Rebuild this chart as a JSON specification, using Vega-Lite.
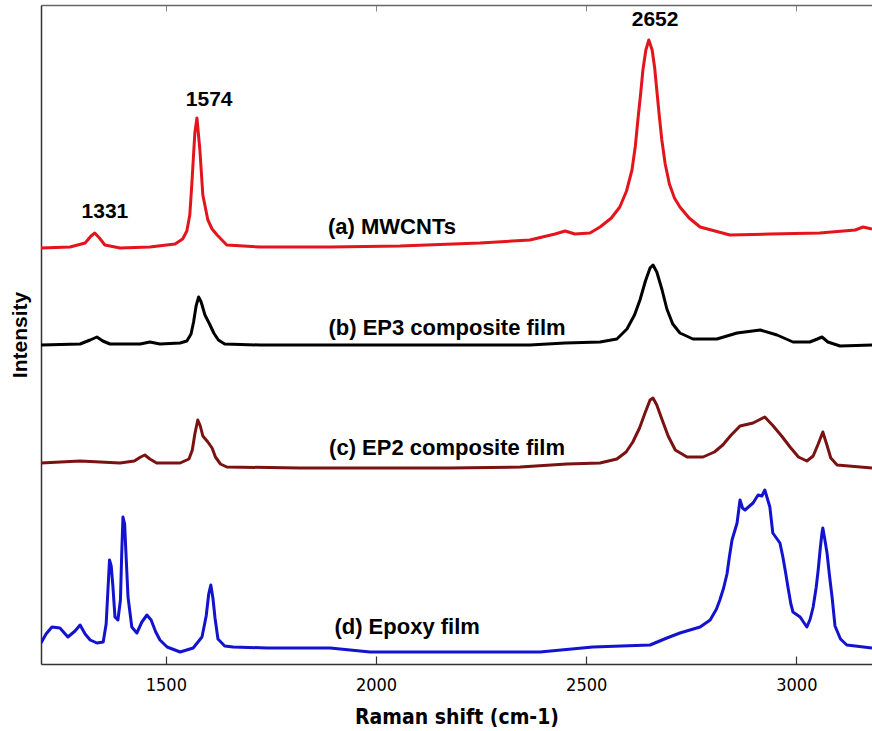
{
  "$schema": "https://vega.github.io/schema/vega-lite/v6.json",
  "autosize": {"type": "none"},
  "width": 831,
  "height": 659,
  "padding": {"left": 41, "top": 5, "right": 0, "bottom": 67},
  "background": "white",
  "config": {"view": {"stroke": null}},
  "datasets": {
    "spectra": [
      {"s": "a", "w": 1203, "v": 416}, {"s": "a", "w": 1272, "v": 417}, {"s": "a", "w": 1308, "v": 421}, {"s": "a", "w": 1322, "v": 428}, {"s": "a", "w": 1331, "v": 431}, {"s": "a", "w": 1342, "v": 426}, {"s": "a", "w": 1355, "v": 419}, {"s": "a", "w": 1391, "v": 416}, {"s": "a", "w": 1462, "v": 417}, {"s": "a", "w": 1522, "v": 420}, {"s": "a", "w": 1540, "v": 425}, {"s": "a", "w": 1550, "v": 433}, {"s": "a", "w": 1557, "v": 449}, {"s": "a", "w": 1562, "v": 481}, {"s": "a", "w": 1569, "v": 531}, {"s": "a", "w": 1574, "v": 546}, {"s": "a", "w": 1581, "v": 514}, {"s": "a", "w": 1588, "v": 469}, {"s": "a", "w": 1600, "v": 444}, {"s": "a", "w": 1610, "v": 435}, {"s": "a", "w": 1622, "v": 429}, {"s": "a", "w": 1645, "v": 419}, {"s": "a", "w": 1724, "v": 417}, {"s": "a", "w": 1891, "v": 417}, {"s": "a", "w": 2057, "v": 418}, {"s": "a", "w": 2247, "v": 421}, {"s": "a", "w": 2366, "v": 424}, {"s": "a", "w": 2426, "v": 430}, {"s": "a", "w": 2450, "v": 433}, {"s": "a", "w": 2473, "v": 430}, {"s": "a", "w": 2509, "v": 431}, {"s": "a", "w": 2533, "v": 437}, {"s": "a", "w": 2560, "v": 446}, {"s": "a", "w": 2580, "v": 457}, {"s": "a", "w": 2596, "v": 473}, {"s": "a", "w": 2609, "v": 494}, {"s": "a", "w": 2617, "v": 518}, {"s": "a", "w": 2623, "v": 544}, {"s": "a", "w": 2630, "v": 572}, {"s": "a", "w": 2635, "v": 594}, {"s": "a", "w": 2642, "v": 614}, {"s": "a", "w": 2649, "v": 624}, {"s": "a", "w": 2657, "v": 614}, {"s": "a", "w": 2663, "v": 596}, {"s": "a", "w": 2668, "v": 574}, {"s": "a", "w": 2674, "v": 548}, {"s": "a", "w": 2680, "v": 524}, {"s": "a", "w": 2688, "v": 500}, {"s": "a", "w": 2698, "v": 480}, {"s": "a", "w": 2710, "v": 466}, {"s": "a", "w": 2723, "v": 457}, {"s": "a", "w": 2745, "v": 446}, {"s": "a", "w": 2771, "v": 437}, {"s": "a", "w": 2842, "v": 429}, {"s": "a", "w": 2937, "v": 430}, {"s": "a", "w": 3056, "v": 431}, {"s": "a", "w": 3140, "v": 434}, {"s": "a", "w": 3159, "v": 437}, {"s": "a", "w": 3180, "v": 435},
      {"s": "b", "w": 1203, "v": 319}, {"s": "b", "w": 1296, "v": 320}, {"s": "b", "w": 1320, "v": 324}, {"s": "b", "w": 1336, "v": 327}, {"s": "b", "w": 1350, "v": 323}, {"s": "b", "w": 1367, "v": 320}, {"s": "b", "w": 1439, "v": 320}, {"s": "b", "w": 1462, "v": 322}, {"s": "b", "w": 1486, "v": 320}, {"s": "b", "w": 1534, "v": 321}, {"s": "b", "w": 1550, "v": 323}, {"s": "b", "w": 1560, "v": 330}, {"s": "b", "w": 1566, "v": 342}, {"s": "b", "w": 1572, "v": 358}, {"s": "b", "w": 1578, "v": 367}, {"s": "b", "w": 1584, "v": 362}, {"s": "b", "w": 1593, "v": 349}, {"s": "b", "w": 1604, "v": 340}, {"s": "b", "w": 1614, "v": 331}, {"s": "b", "w": 1625, "v": 324}, {"s": "b", "w": 1640, "v": 320}, {"s": "b", "w": 1724, "v": 319}, {"s": "b", "w": 2057, "v": 319}, {"s": "b", "w": 2366, "v": 319}, {"s": "b", "w": 2450, "v": 321}, {"s": "b", "w": 2533, "v": 322}, {"s": "b", "w": 2573, "v": 325}, {"s": "b", "w": 2597, "v": 335}, {"s": "b", "w": 2615, "v": 349}, {"s": "b", "w": 2628, "v": 364}, {"s": "b", "w": 2641, "v": 383}, {"s": "b", "w": 2652, "v": 396}, {"s": "b", "w": 2659, "v": 399}, {"s": "b", "w": 2668, "v": 392}, {"s": "b", "w": 2680, "v": 375}, {"s": "b", "w": 2692, "v": 355}, {"s": "b", "w": 2706, "v": 340}, {"s": "b", "w": 2723, "v": 331}, {"s": "b", "w": 2754, "v": 325}, {"s": "b", "w": 2811, "v": 325}, {"s": "b", "w": 2859, "v": 331}, {"s": "b", "w": 2914, "v": 334}, {"s": "b", "w": 2954, "v": 329}, {"s": "b", "w": 2992, "v": 322}, {"s": "b", "w": 3032, "v": 322}, {"s": "b", "w": 3050, "v": 325}, {"s": "b", "w": 3061, "v": 327}, {"s": "b", "w": 3075, "v": 322}, {"s": "b", "w": 3104, "v": 318}, {"s": "b", "w": 3180, "v": 319},
      {"s": "c", "w": 1203, "v": 201}, {"s": "c", "w": 1296, "v": 203}, {"s": "c", "w": 1391, "v": 201}, {"s": "c", "w": 1425, "v": 203}, {"s": "c", "w": 1440, "v": 207}, {"s": "c", "w": 1450, "v": 209}, {"s": "c", "w": 1462, "v": 205}, {"s": "c", "w": 1478, "v": 201}, {"s": "c", "w": 1534, "v": 201}, {"s": "c", "w": 1555, "v": 205}, {"s": "c", "w": 1563, "v": 214}, {"s": "c", "w": 1569, "v": 230}, {"s": "c", "w": 1576, "v": 244}, {"s": "c", "w": 1582, "v": 238}, {"s": "c", "w": 1588, "v": 228}, {"s": "c", "w": 1600, "v": 222}, {"s": "c", "w": 1610, "v": 216}, {"s": "c", "w": 1618, "v": 207}, {"s": "c", "w": 1630, "v": 200}, {"s": "c", "w": 1645, "v": 197}, {"s": "c", "w": 1819, "v": 196}, {"s": "c", "w": 2176, "v": 196}, {"s": "c", "w": 2343, "v": 197}, {"s": "c", "w": 2454, "v": 200}, {"s": "c", "w": 2533, "v": 201}, {"s": "c", "w": 2573, "v": 205}, {"s": "c", "w": 2595, "v": 212}, {"s": "c", "w": 2611, "v": 222}, {"s": "c", "w": 2627, "v": 236}, {"s": "c", "w": 2640, "v": 251}, {"s": "c", "w": 2652, "v": 264}, {"s": "c", "w": 2659, "v": 266}, {"s": "c", "w": 2668, "v": 259}, {"s": "c", "w": 2680, "v": 245}, {"s": "c", "w": 2695, "v": 228}, {"s": "c", "w": 2712, "v": 214}, {"s": "c", "w": 2740, "v": 207}, {"s": "c", "w": 2778, "v": 207}, {"s": "c", "w": 2805, "v": 212}, {"s": "c", "w": 2825, "v": 219}, {"s": "c", "w": 2845, "v": 229}, {"s": "c", "w": 2866, "v": 238}, {"s": "c", "w": 2897, "v": 241}, {"s": "c", "w": 2925, "v": 247}, {"s": "c", "w": 2945, "v": 238}, {"s": "c", "w": 2965, "v": 228}, {"s": "c", "w": 2985, "v": 217}, {"s": "c", "w": 3005, "v": 207}, {"s": "c", "w": 3025, "v": 203}, {"s": "c", "w": 3040, "v": 208}, {"s": "c", "w": 3052, "v": 220}, {"s": "c", "w": 3063, "v": 232}, {"s": "c", "w": 3072, "v": 220}, {"s": "c", "w": 3082, "v": 206}, {"s": "c", "w": 3097, "v": 199}, {"s": "c", "w": 3180, "v": 196},
      {"s": "d", "w": 1203, "v": 21}, {"s": "d", "w": 1215, "v": 30}, {"s": "d", "w": 1229, "v": 37}, {"s": "d", "w": 1248, "v": 36}, {"s": "d", "w": 1267, "v": 27}, {"s": "d", "w": 1284, "v": 33}, {"s": "d", "w": 1296, "v": 39}, {"s": "d", "w": 1308, "v": 30}, {"s": "d", "w": 1320, "v": 24}, {"s": "d", "w": 1336, "v": 21}, {"s": "d", "w": 1351, "v": 22}, {"s": "d", "w": 1358, "v": 40}, {"s": "d", "w": 1362, "v": 72}, {"s": "d", "w": 1366, "v": 104}, {"s": "d", "w": 1370, "v": 98}, {"s": "d", "w": 1374, "v": 78}, {"s": "d", "w": 1379, "v": 47}, {"s": "d", "w": 1386, "v": 44}, {"s": "d", "w": 1392, "v": 64}, {"s": "d", "w": 1395, "v": 110}, {"s": "d", "w": 1398, "v": 147}, {"s": "d", "w": 1402, "v": 140}, {"s": "d", "w": 1405, "v": 112}, {"s": "d", "w": 1410, "v": 67}, {"s": "d", "w": 1419, "v": 37}, {"s": "d", "w": 1431, "v": 31}, {"s": "d", "w": 1443, "v": 42}, {"s": "d", "w": 1455, "v": 49}, {"s": "d", "w": 1465, "v": 44}, {"s": "d", "w": 1476, "v": 32}, {"s": "d", "w": 1486, "v": 24}, {"s": "d", "w": 1503, "v": 17}, {"s": "d", "w": 1534, "v": 12}, {"s": "d", "w": 1565, "v": 16}, {"s": "d", "w": 1586, "v": 27}, {"s": "d", "w": 1596, "v": 48}, {"s": "d", "w": 1602, "v": 70}, {"s": "d", "w": 1607, "v": 79}, {"s": "d", "w": 1612, "v": 66}, {"s": "d", "w": 1617, "v": 46}, {"s": "d", "w": 1624, "v": 25}, {"s": "d", "w": 1640, "v": 18}, {"s": "d", "w": 1660, "v": 17}, {"s": "d", "w": 1741, "v": 16}, {"s": "d", "w": 1891, "v": 16}, {"s": "d", "w": 1986, "v": 12}, {"s": "d", "w": 2390, "v": 12}, {"s": "d", "w": 2516, "v": 17}, {"s": "d", "w": 2652, "v": 19}, {"s": "d", "w": 2692, "v": 26}, {"s": "d", "w": 2723, "v": 31}, {"s": "d", "w": 2771, "v": 37}, {"s": "d", "w": 2795, "v": 44}, {"s": "d", "w": 2810, "v": 55}, {"s": "d", "w": 2818, "v": 64}, {"s": "d", "w": 2827, "v": 76}, {"s": "d", "w": 2835, "v": 90}, {"s": "d", "w": 2841, "v": 108}, {"s": "d", "w": 2847, "v": 124}, {"s": "d", "w": 2859, "v": 141}, {"s": "d", "w": 2866, "v": 164}, {"s": "d", "w": 2872, "v": 156}, {"s": "d", "w": 2878, "v": 154}, {"s": "d", "w": 2897, "v": 161}, {"s": "d", "w": 2909, "v": 169}, {"s": "d", "w": 2918, "v": 168}, {"s": "d", "w": 2925, "v": 174}, {"s": "d", "w": 2937, "v": 157}, {"s": "d", "w": 2944, "v": 131}, {"s": "d", "w": 2961, "v": 121}, {"s": "d", "w": 2968, "v": 107}, {"s": "d", "w": 2975, "v": 90}, {"s": "d", "w": 2980, "v": 77}, {"s": "d", "w": 2987, "v": 60}, {"s": "d", "w": 2992, "v": 52}, {"s": "d", "w": 3009, "v": 47}, {"s": "d", "w": 3025, "v": 37}, {"s": "d", "w": 3033, "v": 45}, {"s": "d", "w": 3040, "v": 57}, {"s": "d", "w": 3047, "v": 76}, {"s": "d", "w": 3052, "v": 94}, {"s": "d", "w": 3057, "v": 116}, {"s": "d", "w": 3061, "v": 131}, {"s": "d", "w": 3063, "v": 136}, {"s": "d", "w": 3068, "v": 124}, {"s": "d", "w": 3073, "v": 111}, {"s": "d", "w": 3079, "v": 88}, {"s": "d", "w": 3085, "v": 67}, {"s": "d", "w": 3092, "v": 38}, {"s": "d", "w": 3105, "v": 25}, {"s": "d", "w": 3120, "v": 19}, {"s": "d", "w": 3180, "v": 16}
    ],
    "labels": [
      {"t": "1331", "w": 1355, "v": 452, "k": "num"},
      {"t": "1574", "w": 1603, "v": 564, "k": "num"},
      {"t": "2652", "w": 2664, "v": 644, "k": "num"},
      {"t": "(a) MWCNTs", "w": 2038, "v": 437, "k": "name"},
      {"t": "(b) EP3 composite film", "w": 2169, "v": 336, "k": "name"},
      {"t": "(c) EP2 composite film", "w": 2169, "v": 216, "k": "name"},
      {"t": "(d) Epoxy film", "w": 2074, "v": 37, "k": "name"}
    ]
  },
  "layer": [
    {
      "data": {"name": "spectra"},
      "mark": {"type": "line", "strokeWidth": 3, "clip": true, "strokeJoin": "round"},
      "encoding": {
        "x": {"field": "w", "type": "quantitative", "scale": {"domain": [1203, 3180], "nice": false, "zero": false},
          "axis": {"orient": "bottom", "values": [1500, 2000, 2500, 3000], "format": "d", "grid": false, "tickSize": -8, "tickColor": "#333", "tickWidth": 1.2, "domainColor": "#333", "domainWidth": 1.5, "labelFont": "DejaVu Sans Condensed", "labelFontSize": 18, "labelColor": "#000", "labelPadding": 20, "title": "Raman shift (cm-1)", "titleFont": "DejaVu Sans Condensed", "titleFontSize": 21, "titleFontWeight": "bold", "titleColor": "#000", "titlePadding": 12}},
        "y": {"field": "v", "type": "quantitative", "scale": {"domain": [0, 659], "nice": false, "zero": false},
          "axis": {"orient": "left", "grid": false, "ticks": false, "labels": false, "domainColor": "#333", "domainWidth": 1.5, "title": "Intensity", "titleFont": "Liberation Sans", "titleFontSize": 21, "titleFontWeight": "bold", "titleColor": "#000", "titlePadding": 11}},
        "color": {"field": "s", "type": "nominal", "legend": null, "scale": {"domain": ["a", "b", "c", "d"], "range": ["#e3141b", "#000000", "#7a1212", "#1212cf"]}},
        "detail": {"field": "s"}
      }
    },
    {
      "data": {"name": "labels"},
      "mark": {"type": "text", "font": "Liberation Sans", "fontWeight": "bold", "align": "center", "baseline": "middle", "color": "#000"},
      "encoding": {
        "x": {"field": "w", "type": "quantitative", "axis": {"orient": "top", "values": [1500, 2000, 2500, 3000], "labels": false, "title": null, "grid": false, "tickSize": -6, "tickColor": "#888", "domainColor": "#666", "domainWidth": 1.5}},
        "y": {"field": "v", "type": "quantitative"},
        "text": {"field": "t"},
        "size": {"field": "k", "type": "nominal", "legend": null, "scale": {"domain": ["num", "name"], "range": [21, 22]}}
      }
    }
  ],
  "resolve": {"axis": {"x": "independent"}}
}
